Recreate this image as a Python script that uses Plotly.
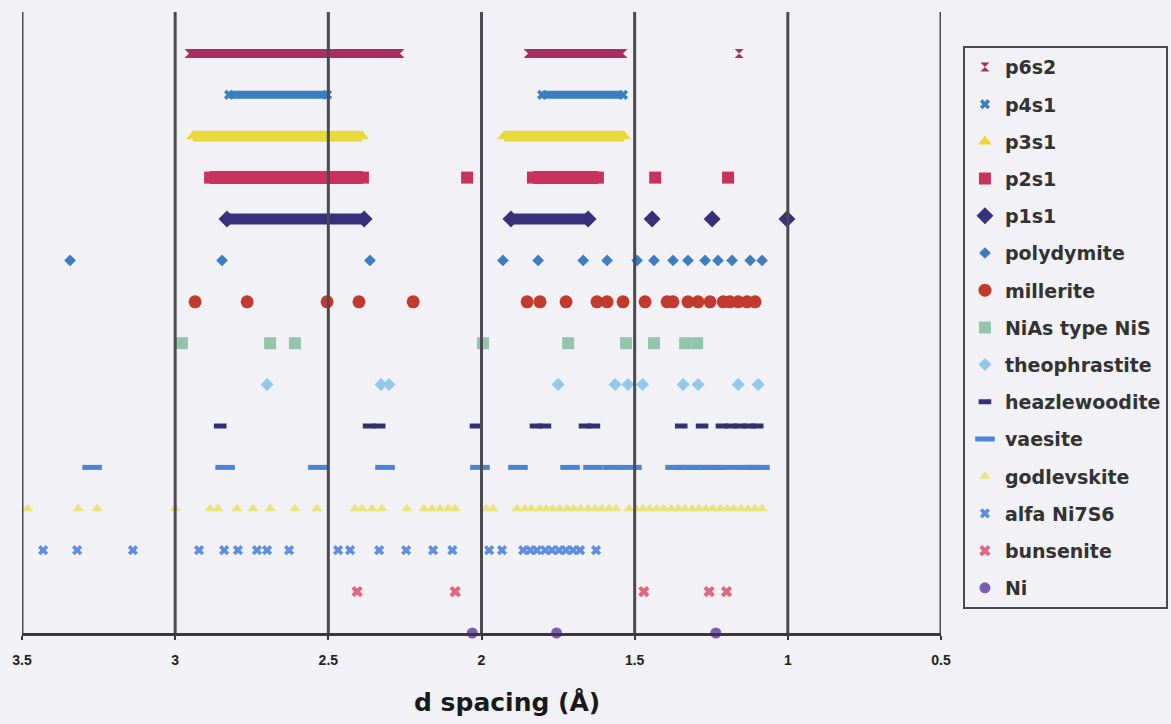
import plotly.graph_objects as go

# ---- peak positions (d spacing, Angstrom) for each phase ----
series_names = ["p6s2", "p4s1", "p3s1", "p2s1", "p1s1", "polydymite", "millerite",
                "NiAs type NiS", "theophrastite", "heazlewoodite", "vaesite",
                "godlevskite", "alfa Ni7S6", "bunsenite", "Ni"]

# continuous bands of reflections (start, end) and isolated peaks for the samples
p6s2_bands = [(2.955, 2.266), (1.848, 1.538)]
p6s2_peaks = [1.159]
p4s1_bands = [(2.824, 2.504), (1.802, 1.538)]
p4s1_peaks = []
p3s1_bands = [(2.942, 2.390), (1.926, 1.535)]
p3s1_peaks = []
p2s1_bands = [(2.886, 2.387), (1.832, 1.620)]
p2s1_peaks = [2.047, 1.433, 1.195]
p1s1_bands = [(2.831, 2.383), (1.904, 1.652)]
p1s1_peaks = [1.443, 1.247, 1.003]

polydymite = [3.343, 2.847, 2.364, 1.930, 1.815, 1.668, 1.590, 1.492, 1.437, 1.375,
              1.326, 1.270, 1.228, 1.182, 1.123, 1.084]
millerite = [2.935, 2.765, 2.504, 2.400, 2.223, 1.851, 1.809, 1.724, 1.623, 1.590,
             1.538, 1.466, 1.394, 1.375, 1.326, 1.293, 1.254, 1.211, 1.189, 1.162,
             1.133, 1.107]
nias_nis = [2.978, 2.690, 2.609, 1.995, 1.717, 1.528, 1.437, 1.335, 1.296]
theophrastite = [2.700, 2.328, 2.302, 1.750, 1.564, 1.522, 1.474, 1.342, 1.293,
                 1.162, 1.097]
heazlewoodite = [2.853, 2.367, 2.334, 2.018, 1.822, 1.793, 1.662, 1.633, 1.348,
                 1.280, 1.215, 1.185, 1.156, 1.126, 1.100]
vaesite = [3.271, 2.837, 2.534, 2.315, 2.005, 1.881, 1.711, 1.636, 1.571, 1.509,
           1.368, 1.342, 1.316, 1.290, 1.264, 1.237, 1.205, 1.143, 1.117, 1.091]
godlevskite = [3.482, 3.317, 3.255, 3.000, 2.886, 2.860, 2.798, 2.746, 2.690, 2.609,
               2.537, 2.413, 2.390, 2.357, 2.325, 2.243, 2.188, 2.161, 2.135, 2.109,
               2.086, 1.985, 1.962, 1.884, 1.858, 1.837, 1.810, 1.789, 1.768, 1.744,
               1.720, 1.699, 1.676, 1.652, 1.630, 1.607, 1.583, 1.561, 1.518, 1.496,
               1.473, 1.451, 1.428, 1.405, 1.381, 1.358, 1.336, 1.312, 1.290, 1.267,
               1.245, 1.221, 1.198, 1.176, 1.153, 1.130, 1.107, 1.084]
alfa_ni7s6 = [3.431, 3.320, 3.138, 2.922, 2.840, 2.795, 2.733, 2.700, 2.628, 2.468,
              2.429, 2.334, 2.246, 2.158, 2.095, 1.975, 1.933, 1.864, 1.841, 1.819,
              1.792, 1.770, 1.747, 1.724, 1.701, 1.678, 1.626]
bunsenite = [2.406, 2.086, 1.470, 1.257, 1.200]
nickel = [2.030, 1.755, 1.235]

tick_vals = [3.5, 3, 2.5, 2, 1.5, 1, 0.5]
tick_text = ["3.5", "3", "2.5", "2", "1.5", "1", "0.5"]

# ---- styling per phase: (symbol, size, colour, band width) ----
styles = {
    "p6s2": ("hourglass", 9, "#A8305E", 9),
    "p4s1": ("x", 9, "#3B7EC2", 8),
    "p3s1": ("triangle-up", 12, "#EAD93C", 11),
    "p2s1": ("square", 12, "#C8325C", 13),
    "p1s1": ("diamond", 13, "#37307A", 11),
    "polydymite": ("diamond", 9, "#3F7DC0", 0),
    "millerite": ("circle", 13, "#C23A2E", 0),
    "NiAs type NiS": ("square", 12, "#93C4AC", 0),
    "theophrastite": ("diamond", 10, "#93C8EA", 0),
    "heazlewoodite": ("line-ew-open", 9, "#34306F", 0),
    "vaesite": ("line-ew-open", 14, "#4A84D8", 0),
    "godlevskite": ("triangle-up", 10, "#E9E47E", 0),
    "alfa Ni7S6": ("x", 9, "#5C8FE0", 0),
    "bunsenite": ("x", 10, "#E2667E", 0),
    "Ni": ("circle", 11, "#7B5DB2", 0),
}

samples = {
    "p6s2": (p6s2_bands, p6s2_peaks),
    "p4s1": (p4s1_bands, p4s1_peaks),
    "p3s1": (p3s1_bands, p3s1_peaks),
    "p2s1": (p2s1_bands, p2s1_peaks),
    "p1s1": (p1s1_bands, p1s1_peaks),
}
references = {
    "polydymite": polydymite,
    "millerite": millerite,
    "NiAs type NiS": nias_nis,
    "theophrastite": theophrastite,
    "heazlewoodite": heazlewoodite,
    "vaesite": vaesite,
    "godlevskite": godlevskite,
    "alfa Ni7S6": alfa_ni7s6,
    "bunsenite": bunsenite,
    "Ni": nickel,
}

fig = go.Figure()
n_rows = len(series_names)

for i, name in enumerate(series_names):
    row = n_rows - 1 - i
    symbol, size, color, band_w = styles[name]
    marker = dict(symbol=symbol, size=size, color=color)
    if symbol.endswith("-open"):
        marker["line"] = dict(width=5, color=color)

    if name in samples:
        bands, peaks = samples[name]
        bx, by = [], []
        for start, end in bands:
            bx += [start, end, None]
            by += [row, row, None]
        fig.add_trace(go.Scatter(
            x=bx, y=by, mode="lines", line=dict(color=color, width=band_w),
            legendgroup=name, showlegend=False, hoverinfo="skip"))
        xs = [v for band in bands for v in band] + list(peaks)
    else:
        xs = list(references[name])

    fig.add_trace(go.Scatter(
        x=xs, y=[row] * len(xs), mode="markers", name=name, marker=marker,
        legendgroup=name, cliponaxis=False))

# vertical reference lines at each tick, drawn over the markers
grid_color = "#4A4A50"
for v in tick_vals:
    fig.add_shape(type="line", xref="x", yref="paper", x0=v, x1=v, y0=0, y1=1,
                  line=dict(color=grid_color, width=3), layer="above")

fig.add_annotation(text="d spacing (Å)", xref="paper", yref="paper",
                   x=0.5277, y=-0.1127, xanchor="center", yanchor="middle",
                   showarrow=False,
                   font=dict(family="DejaVu Sans", size=25, color="#1A1A1A",
                             weight="bold"))

bg = "#F2F2F6"
fig.update_layout(
    width=1171, height=724,
    margin=dict(l=22, r=230, t=12, b=91, autoexpand=False),
    paper_bgcolor=bg, plot_bgcolor=bg,
    xaxis=dict(range=[3.5, 0.5], tickvals=tick_vals, ticktext=tick_text,
               showgrid=False, zeroline=False, showline=True,
               linecolor="#3D3838", linewidth=3, ticks="outside", ticklen=4,
               tickwidth=2, tickcolor="#3D3838", ticklabelstandoff=8,
               tickfont=dict(family="Liberation Sans", size=14, color="#222222",
                             weight="bold")),
    yaxis=dict(range=[0, 15], visible=False),
    legend=dict(x=1.0239, y=0.945, xanchor="left", yanchor="top",
                bordercolor="#4A4A4A", borderwidth=2, bgcolor=bg,
                tracegroupgap=9.5,
                font=dict(family="DejaVu Sans", size=19, color="#333333",
                          weight="bold")),
    showlegend=True,
)

fig.write_html("out.html")
